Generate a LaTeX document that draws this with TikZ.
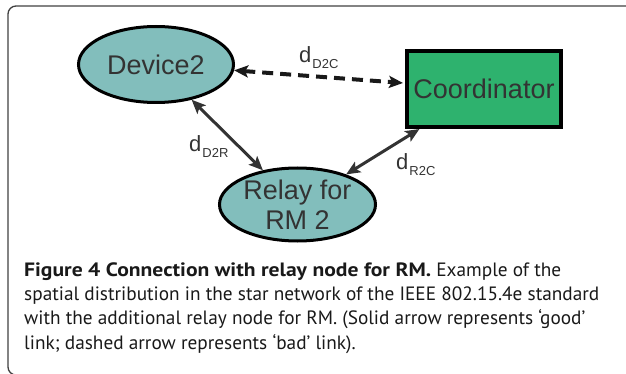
\documentclass[tikz,border=0pt]{standalone}
\usepackage{fontspec}
\setmainfont{Liberation Sans}
\newfontfamily\capfont{PT Sans}[BoldFeatures={FakeStretch=1.12}]
\usetikzlibrary{arrows.meta,shapes.geometric}

\definecolor{relayteal}{RGB}{130,190,188}
\definecolor{coordgreen}{RGB}{46,178,110}
\definecolor{inkgray}{RGB}{51,51,51}

% distance label: d with a lowered small subscript
\newcommand{\linkdist}[1]{d\kern1pt\raisebox{-6pt}{\fontsize{13}{13}\selectfont #1}}

\tikzset{
  devnode/.style={ellipse, draw=black, line width=3pt, fill=relayteal,
    text=inkgray, inner sep=0pt, align=center,
    font=\fontsize{27}{30.5}\selectfont},
  coordbox/.style={rectangle, draw=black, line width=4pt, fill=coordgreen,
    text=inkgray, inner sep=0pt, minimum width=154pt, minimum height=76pt,
    font=\fontsize{27}{30}\selectfont},
  distlabel/.style={anchor=base west, inner sep=0pt, text=inkgray,
    font=\fontsize{22}{22}\selectfont},
  goodlink/.style={draw=inkgray, line width=3pt,
    {Stealth[length=14pt,width=12pt,inset=3pt]}-{Stealth[length=14pt,width=12pt,inset=3pt]}},
  badlink/.style={goodlink, draw=black!90, line width=4pt, dash pattern=on 11pt off 7pt}
}

\begin{document}
\begin{tikzpicture}[x=1pt,y=-1pt]
  \useasboundingbox (0,0) rectangle (626,374);
  \begin{scope}
    \clip (0,0) rectangle (626,374);
    \draw[draw=black!75, line width=1.3pt, rounded corners=8pt] (8,6) rectangle (700,375);
  \end{scope}

  % nodes
  \node[devnode, minimum width=155pt, minimum height=76pt] (dev) at (156,64.5) {Device2};
  \node[coordbox] (coord) at (484,89) {Coordinator};
  \node[devnode, minimum width=156pt, minimum height=73pt] (relay) at (297.5,204.5) {Relay for\\RM 2};

  % links
  \draw[badlink] (dev) -- ([shift={(-2pt,6pt)}]coord.west);
  \draw[goodlink] (dev) -- (relay);
  \draw[goodlink] (relay) -- (coord);

  \node[distlabel] (ldc) at (299,63) {\linkdist{D2C}};
  \node[distlabel] (ldr) at (189,152) {\linkdist{D2R}};
  \node[distlabel] (lrc) at (396,170) {\linkdist{R2C}};

  % caption (base = baseline of its last line)
  \node[anchor=base west, inner sep=0pt, align=left, text=black!90,
        font=\capfont\fontsize{19.3}{24.3}\selectfont] (cap) at (24,349)
    {\textbf{Figure 4 Connection with relay node for RM.} Example of the\\
     spatial distribution in the star network of the IEEE 802.15.4e standard\\
     with the additional relay node for RM. (Solid arrow represents ‘good’\\
     link; dashed arrow represents ‘bad’ link).};
\end{tikzpicture}
\end{document}
